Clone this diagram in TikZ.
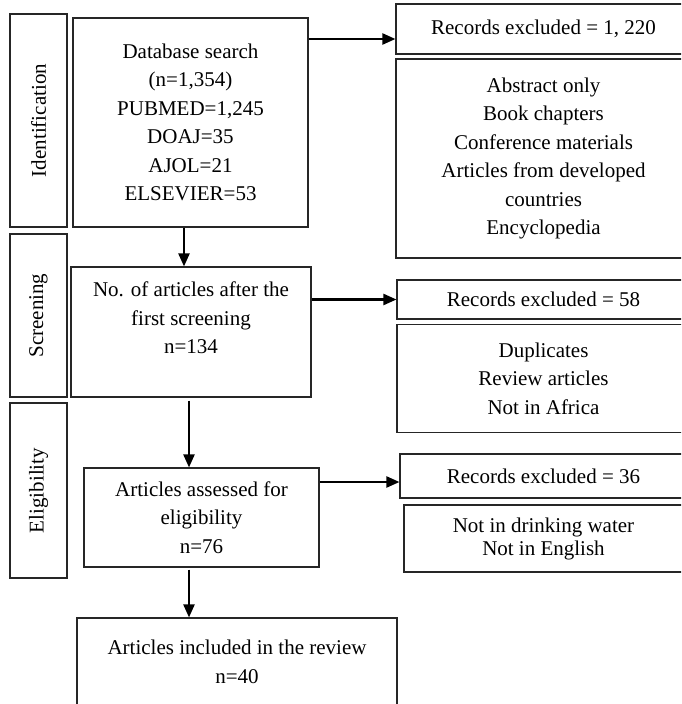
\documentclass[tikz,border=0pt]{standalone}
\usepackage{fontspec}
\setmainfont{Liberation Serif}
\usetikzlibrary{arrows.meta}
\tikzset{
  x=1pt, y=-1pt,
  box/.style={draw=black!85, line width=1.1pt, inner sep=0pt, align=center,
    font=\fontsize{21}{28.5}\selectfont, anchor=center},
  sidebox/.style={box, rotate=90},
  arr/.style={line width=2.2pt, -{Triangle[length=13pt,width=11pt]}}
}
\begin{document}
\begin{tikzpicture}
\clip (0,0) rectangle (681,704);
\fill[white] (0,0) rectangle (681,704);
% stage labels
\node[sidebox, minimum width=213, minimum height=57] (idlab) at (38.5,120.5) {Identification};
\node[sidebox, minimum width=163, minimum height=57] (scrlab) at (38.5,315.5) {Screening};
\node[sidebox, minimum width=175, minimum height=57] (eliglab) at (38.5,490.5) {Eligibility};
% main column
\node[box, minimum width=235, minimum height=209] (db) at (190.5,122.5)
  {Database search\\(n=1,354)\\PUBMED=1,245\\DOAJ=35\\AJOL=21\\ELSEVIER=53};
\node[box, minimum width=240, minimum height=130] (scr) at (191,332)
  {No. of articles after the\\first screening\\n=134\\\mbox{}};
\node[box, minimum width=235, minimum height=99] (elig) at (201.5,517.5)
  {Articles assessed for\\eligibility\\n=76};
\node[box, minimum width=320, minimum height=88] (incl) at (237,662)
  {Articles included in the review\\n=40};
% right column
\node[box, minimum width=295, minimum height=50] (rec1) at (543.5,29)
  {Records excluded = 1, 220};
\node[box, minimum width=295, minimum height=199] (abs) at (543.5,158.5)
  {Abstract only\\Book chapters\\Conference materials\\Articles from developed\\countries\\Encyclopedia};
\node[box, minimum width=293, minimum height=39] (rec2) at (543.5,299.5)
  {Records excluded = 58};
\node[box, minimum width=293, minimum height=108] (dup) at (543.5,378.5)
  {Duplicates\\Review articles\\Not in Africa};
\node[box, minimum width=287, minimum height=44] (rec3) at (543.5,476)
  {Records excluded = 36};
\node[box, minimum width=279, minimum height=67, font=\fontsize{21}{23}\selectfont] (nid) at (543.5,538.5)
  {Not in drinking water\\Not in English};
% connectors
\draw[arr] (db.east |- 0,39) -- (rec1.west |- 0,39);
\draw[arr] (db.south -| 184,0) -- (scr.north -| 184,0);
\draw[arr] (scr.east |- 0,299.5) -- (rec2.west);
\draw[arr] (scr.south -| 189,0) ++(0,3) -- (elig.north -| 189,0);
\draw[arr] (elig.east |- 0,482) -- (rec3.west |- 0,482);
\draw[arr] (elig.south -| 189,0) ++(0,2) -- (incl.north -| 189,0);
\end{tikzpicture}
\end{document}
